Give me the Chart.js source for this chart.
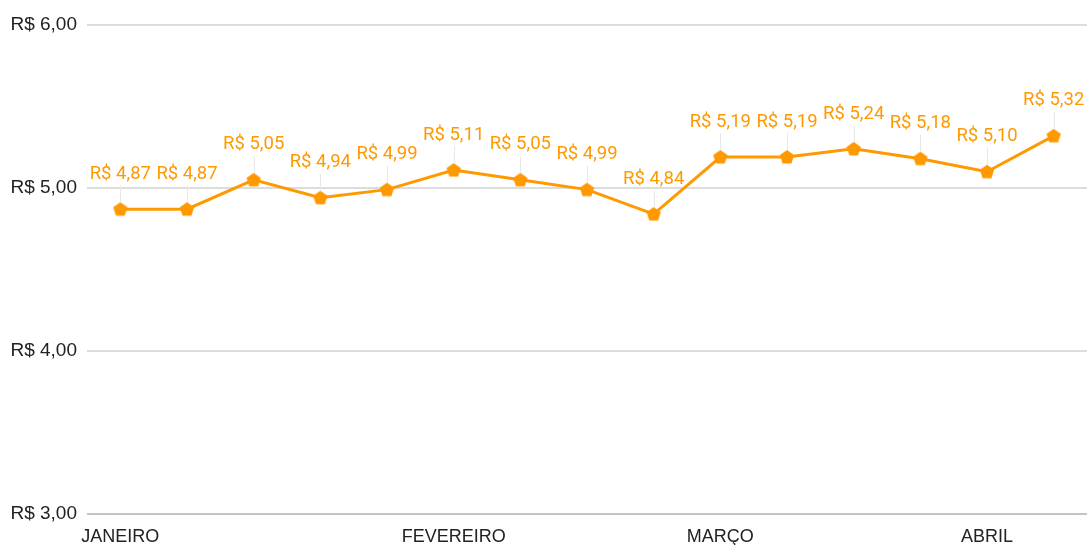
<!DOCTYPE html>
<html>
<head>
<meta charset="utf-8">
<script src="https://cdn.jsdelivr.net/npm/chart.js@4/dist/chart.umd.min.js"></script>
<style>
  html, body { margin: 0; padding: 0; background: #fff; }
  #wrap { width: 1088px; height: 545px; position: relative; }
</style>
</head>
<body>
<div id="wrap"><canvas id="myChart"></canvas></div>
<script>
const months = ['JANEIRO', '', '', '', '', 'FEVEREIRO', '', '', '', 'MARÇO', '', '', '', 'ABRIL', ''];
const prices = [4.87, 4.87, 5.05, 4.94, 4.99, 5.11, 5.05, 4.99, 4.84, 5.19, 5.19, 5.24, 5.18, 5.10, 5.32];
const yTicks = [3, 4, 5, 6];

const orange = '#ff9900';
const fmt = (v) => 'R$ ' + v.toFixed(2).replace('.', ',');

// pentagon marker like the sheets chart
const makeMarker = () => {
  const c = document.createElement('canvas');
  c.width = 16;
  c.height = 16;
  const g = c.getContext('2d');
  g.fillStyle = orange;
  g.beginPath();
  for (let i = 0; i < 5; i += 1) {
    const a = -Math.PI / 2 + i * 2 * Math.PI / 5;
    const x = 8 + 7.5 * Math.cos(a);
    const y = 8.4 + 7.5 * Math.sin(a);
    if (i === 0) g.moveTo(x, y); else g.lineTo(x, y);
  }
  g.closePath();
  g.fill();
  return c;
};

const labelPlugin = {
  id: 'valueLabels',
  afterDatasetsDraw(chart) {
    const ctx = chart.ctx;
    const meta = chart.getDatasetMeta(0);
    ctx.save();
    ctx.font = '18.5px Roboto';
    ctx.textAlign = 'center';
    ctx.textBaseline = 'middle';
    meta.data.forEach((pt, i) => {
      const ly = pt.y - 35;
      ctx.strokeStyle = '#e8e8e8';
      ctx.lineWidth = 1;
      ctx.beginPath();
      ctx.moveTo(Math.round(pt.x) + 0.5, ly + 11);
      ctx.lineTo(Math.round(pt.x) + 0.5, pt.y - 7);
      ctx.stroke();
      ctx.fillStyle = orange;
      ctx.fillText(fmt(prices[i]), pt.x, ly);
    });
    ctx.restore();
  },
};

const ctx = document.getElementById('myChart').getContext('2d');
const myChart = new Chart(ctx, {
  type: 'line',
  data: {
    labels: months,
    datasets: [{
      data: prices,
      borderColor: orange,
      backgroundColor: orange,
      borderWidth: 3,
      pointStyle: makeMarker(),
      tension: 0,
    }],
  },
  options: {
    responsive: true,
    maintainAspectRatio: false,
    animation: false,
    layout: { autoPadding: false, padding: { top: 25, right: 1, left: 0, bottom: 0 } },
    plugins: {
      legend: { display: false },
      tooltip: { enabled: false },
    },
    scales: {
      x: {
        offset: true,
        afterFit: (axis) => {
          axis.height = 31;
          axis.paddingLeft = 0;
          axis.paddingRight = 0;
        },
        grid: { display: false },
        border: { display: false },
        ticks: {
          autoSkip: false,
          maxRotation: 0,
          color: '#222',
          font: { family: 'Liberation Sans', size: 18 },
          padding: 4,
        },
      },
      y: {
        min: 3,
        max: 6,
        afterFit: (axis) => { axis.width = 87; },
        afterBuildTicks: (axis) => {
          axis.ticks = yTicks.map((v) => ({ value: v }));
        },
        grid: {
          color: (c) => (c.tick && c.tick.value === 3 ? '#c4c4c4' : '#dcdcdc'),
          lineWidth: 2,
          drawTicks: false,
        },
        border: { display: false },
        ticks: {
          callback: (v) => fmt(v),
          color: '#222',
          font: { family: 'Liberation Sans', size: 19 },
          padding: 10,
        },
      },
    },
  },
  plugins: [labelPlugin],
});
</script>
</body>
</html>
